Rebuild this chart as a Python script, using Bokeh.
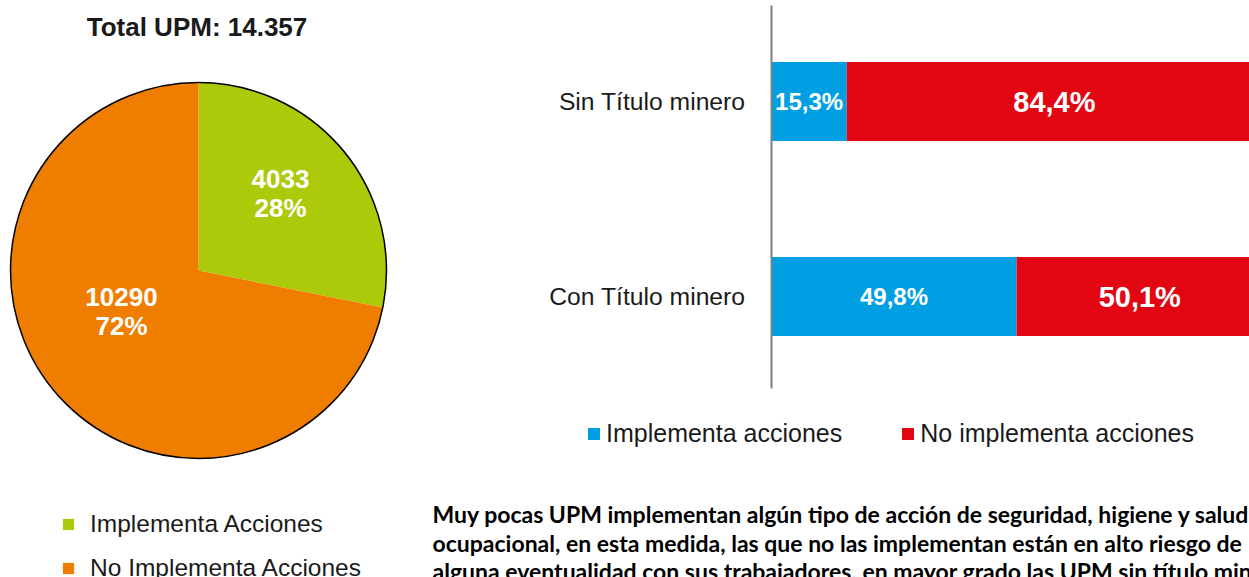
import numpy as np
from bokeh.plotting import figure
from bokeh.layouts import row, column
from bokeh.models import (ColumnDataSource, Range1d, Legend, LegendItem, Label,
                          LinearAxis, FixedTicker)
from bokeh.core.properties import value
from bokeh.embed import file_html
from bokeh.resources import INLINE

# ---------------- data ----------------
pie_labels = ["Implementa Acciones", "No Implementa Acciones"]
pie_values = [4033, 10290]
pie_pct = ["28%", "72%"]
pie_title = "Total UPM: 14.357"

bar_categories = ["Con Título minero", "Sin Título minero"]
impl_values = [49.8, 15.3]
no_impl_values = [50.1, 84.4]
bar_series = ["Implementa acciones", "No implementa acciones"]

paragraph = [
    "Muy pocas UPM implementan algún tipo de acción de seguridad, higiene y salud",
    "ocupacional, en esta medida, las que no las implementan están en alto riesgo de",
    "alguna eventualidad con sus trabajadores, en mayor grado las UPM sin título minero.",
]

GREEN = "#acc90a"
ORANGE = "#ef7d00"
BLUE = "#009fe3"
RED = "#e20613"
FONT = "Liberation Sans"

W, H = 1249, 577

# ---------------- pie ----------------
pw, ph = 430, H
pie = figure(width=pw, height=ph, x_range=Range1d(0, pw), y_range=Range1d(0, ph),
             x_axis_type=None, y_axis_type=None, toolbar_location=None,
             output_backend="svg", min_border=0, outline_line_color=None)
vals = np.array(pie_values, dtype=float)
frac = vals / vals.sum()
cum = np.concatenate([[0], np.cumsum(frac)])
start = np.pi / 2 - cum[:-1] * 2 * np.pi
end = np.pi / 2 - cum[1:] * 2 * np.pi
cx, cy, R = 198, 307, 188
src = ColumnDataSource(dict(x=[cx] * 2, y=[cy] * 2, start=start, end=end,
                            color=[GREEN, ORANGE], label=pie_labels))
wr = pie.wedge(x="x", y="y", radius=R, start_angle="start", end_angle="end",
               direction="clock", fill_color="color", line_color=None, source=src)
pie.circle(x=[cx], y=[cy], radius=R, fill_color=None, line_color="black", line_width=1.5)

lab_x = [280, 121]
lab_y = [399, 281]
pie.text(x=lab_x, y=lab_y, text=[str(v) for v in pie_values], text_color="white",
         text_font=value(FONT), text_font_style="bold", text_font_size="26px",
         text_align="center", text_baseline="middle")
pie.text(x=lab_x, y=[v - 29 for v in lab_y], text=pie_pct, text_color="white",
         text_font=value(FONT), text_font_style="bold", text_font_size="26px",
         text_align="center", text_baseline="middle")
pie.text(x=[196.5], y=[551], text=[pie_title], text_color="#1a1a1a",
         text_font=value(FONT), text_font_style="bold", text_font_size="26px",
         text_align="center", text_baseline="middle")

pleg = Legend(items=[LegendItem(label=pie_labels[i], renderers=[wr], index=i) for i in range(2)],
              location=(61, -5), orientation="vertical", glyph_width=14, glyph_height=14,
              label_standoff=15, label_height=24, spacing=16, padding=0, margin=0,
              border_line_color=None, background_fill_alpha=0,
              label_text_font=FONT, label_text_font_size="24.5px", label_text_color="#1a1a1a")
pie.add_layout(pleg)

# ---------------- bars + legend + paragraph (one frame) ----------------
rw = W - pw
axis_px = 341            # distance of the 0 % line from the left of this panel
px_per_pct = 4.92
ppu = 195.0              # pixels per category step
top_px_first = 101.0     # centre of the top category, from the top edge
cat_pos = np.arange(len(bar_categories)) + 0.5
y_top = cat_pos[-1] + top_px_first / ppu
y_bot = y_top - H / ppu

bars = figure(width=rw, height=H,
              x_range=Range1d(-axis_px / px_per_pct, (rw - axis_px) / px_per_pct),
              y_range=Range1d(y_bot, y_top),
              x_axis_location=None, y_axis_location=None, toolbar_location=None,
              output_backend="svg", min_border=0, outline_line_color=None)
bars.xgrid.visible = False
bars.ygrid.visible = False

bsrc = ColumnDataSource(dict(pos=cat_pos, cat=bar_categories,
                             impl=impl_values, no=no_impl_values))
hr = bars.hbar_stack(["impl", "no"], y="pos", height=79 / ppu, color=[BLUE, RED],
                     line_color=None, source=bsrc)

ax = LinearAxis(fixed_location=0, bounds=(y_top - 388 / ppu, y_top - 5 / ppu),
                ticker=FixedTicker(ticks=list(cat_pos)),
                major_label_overrides={float(p): c for p, c in zip(cat_pos, bar_categories)})
ax.axis_line_color = "#808080"
ax.axis_line_width = 2
ax.major_tick_line_color = None
ax.minor_tick_line_color = None
ax.major_label_standoff = 20
ax.major_label_text_font = FONT
ax.major_label_text_font_size = "24.7px"
ax.major_label_text_color = "#1a1a1a"
bars.add_layout(ax, "left")

impl = np.array(impl_values)
no = np.array(no_impl_values)
fmt = lambda v: ("%.1f%%" % v).replace(".", ",")
bars.text(x=impl / 2, y=cat_pos, text=[fmt(v) for v in impl_values],
          text_color="white", text_font=value(FONT), text_font_style="bold",
          text_font_size="24px", text_align="center", text_baseline="middle")
bars.text(x=impl + no / 2, y=cat_pos, text=[fmt(v) for v in no_impl_values],
          text_color="white", text_font=value(FONT), text_font_style="bold",
          text_font_size="29px", text_align="center", text_baseline="middle")

bleg = Legend(items=[LegendItem(label=bar_series[0], renderers=[hr[0]]),
                     LegendItem(label=bar_series[1], renderers=[hr[1]])],
              location=(156, 129), orientation="horizontal", glyph_width=15, glyph_height=15,
              label_standoff=5, label_height=24, spacing=58, padding=0, margin=0,
              border_line_color=None, background_fill_alpha=0,
              label_text_font=FONT, label_text_font_size="25px", label_text_color="#1a1a1a")
bars.add_layout(bleg)

for line, yy in zip(paragraph, [64, 35, 7]):
    bars.add_layout(Label(x=2, y=yy, x_units="screen", y_units="screen",
                          text=line, text_font="Lato", text_font_style="bold",
                          text_font_size="23px",
                          text_color="#000000", text_baseline="middle", text_align="left"))

layout = row(column(pie), column(bars))
open("out.html", "w").write(file_html(layout, INLINE))
